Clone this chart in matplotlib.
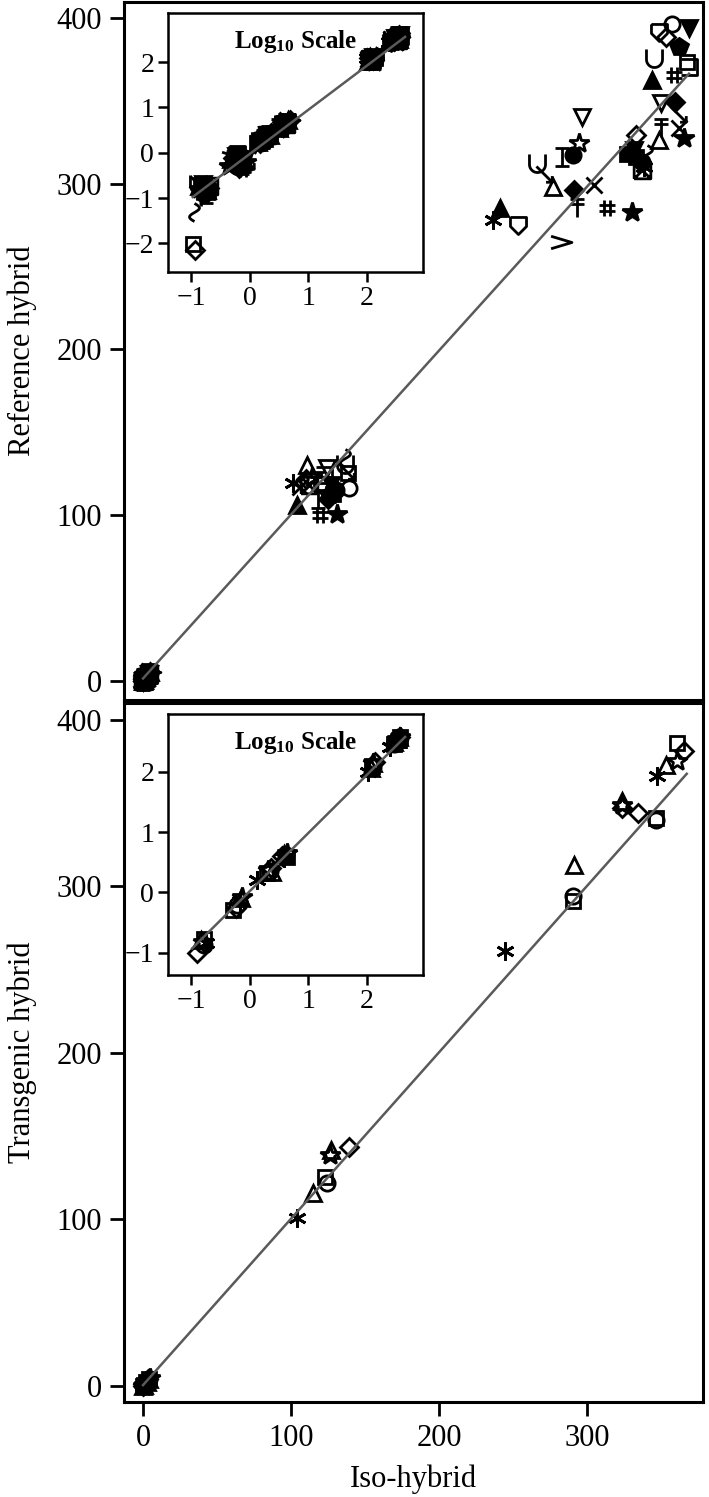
import numpy as np
import matplotlib
matplotlib.use('Agg')
from matplotlib import pyplot as plt
from matplotlib.path import Path

plt.rcParams['font.family'] = ['Liberation Serif', 'DejaVu Serif']
plt.rcParams['mathtext.fontset'] = 'custom'
plt.rcParams['mathtext.rm'] = 'Liberation Serif'
plt.rcParams['mathtext.bf'] = 'Liberation Serif:bold'

nan = np.nan

# ---- top panel: iso-hybrid vs reference hybrid ----
top_sym = ['circle_open', 'circle_fill', 'tri_up_open', 'tri_up_fill', 'tri_dn_open',
           'tri_dn_fill', 'diamond_open', 'diamond_fill', 'square_open', 'square_fill',
           'star_fill', 'star_open', 'asterisk', 'cross', 'hash',
           'cup', 'gt', 'tbar', 'shield', 'wave',
           'bracket', 'arrow', 'pent_fill', 'ibar', 'boxx']

top_iso_1 = [0.15, 0.17, 0.14, 0.19, 0.16, 0.18, 0.117, 0.20, 0.107, 0.15, 0.17, 0.14, 0.19,
             0.16, 0.21, 0.13, 0.18, 0.15, 0.17, 0.112, 0.19, 0.14, 0.16, 0.18, 0.20]
top_ref_1 = [0.16, 0.12, 0.18, 0.15, 0.20, 0.13, 0.0071, 0.17, 0.0095, 0.19, 0.14, 0.16, 0.12,
             0.18, 0.15, 0.20, 0.13, 0.11, 0.17, 0.05, 0.14, 0.19, 0.16, 0.12, 0.18]
top_iso_2 = [0.55, 0.62, 0.48, 0.71, 0.80, 0.58, 0.66, 0.52, 0.75, 0.60, 0.88, 0.45, 0.68,
             0.57, 0.78, 0.64, 0.50, 0.85, 0.61, 0.70, 0.54, 0.92, 0.59, 0.73, 0.66]
top_ref_2 = [0.60, 0.50, 0.72, 0.58, 0.65, 0.85, 0.47, 0.78, 0.55, 0.90, 0.62, 0.52, 0.70,
             0.80, 0.44, 0.66, 0.75, 0.57, 0.92, 0.49, 0.68, 0.63, 0.82, 0.54, 0.71]
top_iso_3 = [1.6, 1.9, 1.4, 2.2, 1.7, 2.0, 1.5, 2.3, 1.8, 1.35, 2.1, 1.65, 1.95,
             1.45, 2.25, 1.75, 1.55, 2.05, 1.85, 1.3, 2.15, 1.6, 1.9, 1.7, 2.0]
top_ref_3 = [1.9, 2.2, 1.7, 2.5, 1.8, 2.4, 1.6, 2.7, 2.0, 1.65, 2.3, 2.1, 2.6,
             1.75, 2.45, 1.95, 2.05, 2.35, 2.15, 1.55, 2.55, 1.85, 2.25, 2.0, 2.4]
top_iso_4 = [3.5, 4.2, 3.2, 4.6, 3.8, 4.0, 3.4, 4.8, 3.6, 4.4, 3.1, 3.9, 4.5,
             3.3, 4.1, 3.7, 4.7, 3.5, 4.3, 3.9, 3.2, 4.6, 3.6, 4.0, 4.2]
top_ref_4 = [3.9, 4.6, 3.5, 5.2, 4.1, 4.4, 3.8, 5.4, 4.0, 4.9, 3.4, 4.3, 5.0,
             3.6, 4.7, 4.2, 5.3, 3.9, 4.8, 4.5, 3.7, 5.1, 4.1, 4.6, 4.4]
top_iso_5 = [139, 130, 111, 104, 124.4, 127, 110, 125, 138.5, 128, 131, 114, 101,
             106, 119.7, 136, nan, 117.7, 121, 136.5, 122, 138, 126, 118, 112]
top_ref_5 = [116.4, 115, 130.3, 106, 128.5, 118, 122, 110, 125.5, 113, 100.5, 123, 119.5,
             117, 100, 131, nan, 121, 118, 134.5, 124, 126, 112, 110, 118]
top_iso_6 = [357, 337, 276.4, 343.6, 349.7, 368.5, 333, 359, 367, 327, 365, 294.5, 236,
             361.8, 358.4, 345, 282.4, 349.7, 348, 340, 368.5, 271, 362, 283, 337]
top_ref_6 = [396, 313, 298, 362.6, 348.7, 394, 329.4, 349.3, 373.5, 318, 327.6, 324.6, 278,
             333.6, 365.6, 376, 265, 334.2, 391.6, 318, 370.5, 305, 382.5, 316, 308.3]
top_iso_7 = [nan, 290, 348, 240.7, 296, 331.5, 353, 291, nan, 333, 330, nan, 338,
             304.6, 313.4, 266, nan, 293, 253, nan, nan, 361.8, nan, nan, nan]
top_ref_7 = [nan, 317, 326.4, 285.4, 340, 320, 388.5, 296, nan, 316, 283, nan, 310,
             299, 285.4, 312.5, nan, 286, 275, nan, nan, 341.5, nan, nan, nan]

# ---- bottom panel: iso-hybrid vs transgenic hybrid ----
bot_sym = ['circle_open', 'tri_up_open', 'square_open', 'diamond_open', 'star_open', 'asterisk']

bot_iso_1 = [0.17, 0.15, 0.165, 0.129, 0.16, 0.18]
bot_ref_1 = [0.135, 0.16, 0.17, 0.098, 0.15, 0.145]
bot_iso_2 = [0.60, 0.70, 0.53, 0.58, 0.74, 0.68]
bot_ref_2 = [0.62, 0.80, 0.51, 0.56, 0.85, 0.72]
bot_iso_3 = [2.2, 2.4, 2.0, 2.3, 2.1, 1.33]
bot_ref_3 = [2.3, 2.2, 2.1, 2.5, 2.4, 1.58]
bot_iso_4 = [4.1, 3.8, 4.3, 3.6, 4.4, 3.9]
bot_ref_4 = [4.2, 4.4, 3.9, 4.0, 4.6, 3.7]
bot_iso_5 = [124.4, 115, 123, 139, 126.4, 103.6]
bot_ref_5 = [122, 116, 125.5, 143.5, 138.7, 101]
bot_iso_6 = [346, 353, 360.5, 365, 360.5, 347]
bot_ref_6 = [340, 373, 386, 381, 375, 366]
bot_iso_7 = [290, 323, 346, 334, 323, 244]
bot_ref_7 = [294, 351, 341, 344, 349, 261]
bot_iso_8 = [nan, 291, 290, 323, nan, nan]
bot_ref_8 = [nan, 313, 291, 347, nan, nan]
bot_iso_9 = [nan, 127, nan, nan, nan, nan]
bot_ref_9 = [nan, 141.7, nan, nan, nan, nan]

# fitted lines (slope, intercept, x start, x end)
top_fit = (0.99, 1.5, 0, 368.5)
bot_fit = (1.0, 0.5, 0, 367)
top_log_fit = (0.975, -0.03, -0.97, 2.65)
bot_log_fit = (0.967, 0.018, -0.98, 2.65)


# marker shapes
def seg_path(*segs):
    verts, codes = [], []
    for s in segs:
        for i, p in enumerate(s):
            verts.append(p)
            codes.append(Path.MOVETO if i == 0 else Path.LINETO)
    return Path(verts, codes)


t = np.linspace(np.pi, 2 * np.pi, 20)
cup = [(-0.8, 0.9)] + list(zip(0.8 * np.cos(t), -0.1 + 0.8 * np.sin(t))) + [(0.8, 0.9)]
wy = np.linspace(-1, 1, 40)
wave = list(zip(0.55 * np.sin(np.pi * wy), wy))

MARKERS = {
    'circle_open': ('o', False, 11),
    'circle_fill': ('o', True, 11),
    'tri_up_open': ('^', False, 12),
    'tri_up_fill': ('^', True, 12),
    'tri_dn_open': ('v', False, 12),
    'tri_dn_fill': ('v', True, 12),
    'diamond_open': ('D', False, 9),
    'diamond_fill': ('D', True, 9),
    'square_open': ('s', False, 10),
    'square_fill': ('s', True, 10),
    'star_fill': ('*', True, 15),
    'star_open': ('*', False, 15),
    'pent_fill': ('p', True, 13),
    'asterisk': ((6, 2, 0), False, 13),
    'cross': ('x', False, 12),
    'hash': (seg_path([(-0.35, -1), (-0.35, 1)], [(0.35, -1), (0.35, 1)],
                      [(-1, -0.35), (1, -0.35)], [(-1, 0.35), (1, 0.35)]), False, 12),
    'cup': (seg_path(cup), False, 13),
    'gt': (seg_path([(-1, 0.6), (1, 0), (-1, -0.6)]), False, 15),
    'tbar': (seg_path([(0, -1), (0, 0.8)], [(-0.7, 0.8), (0.7, 0.8)],
                      [(-0.7, 0.3), (0.7, 0.3)]), False, 15),
    'shield': (seg_path([(-0.8, 0.8), (0.8, 0.8), (0.8, -0.1), (0, -0.9),
                         (-0.8, -0.1), (-0.8, 0.8)]), False, 13),
    'wave': (seg_path(wave), False, 13),
    'bracket': (seg_path([(-0.8, 0.8), (0.8, 0.8), (0.8, -0.8), (-0.8, -0.8)]), False, 12),
    'arrow': (seg_path([(-0.8, 0.8), (0.6, -0.6)], [(0.6, -0.05), (0.6, -0.6), (0.05, -0.6)]),
              False, 13),
    'ibar': (seg_path([(-0.6, 0.8), (0.6, 0.8)], [(0, 0.8), (0, -0.8)],
                      [(-0.6, -0.8), (0.6, -0.8)]), False, 13),
    'boxx': (seg_path([(-0.8, -0.8), (0.8, -0.8), (0.8, 0.8), (-0.8, 0.8), (-0.8, -0.8)],
                      [(-0.8, -0.8), (0.8, 0.8)], [(-0.8, 0.8), (0.8, -0.8)]), False, 12),
}


def draw_points(ax, names, xs_list, ys_list, log=False):
    for i, name in enumerate(names):
        m, filled, size = MARKERS[name]
        x = np.array([xs[i] for xs in xs_list], dtype=float)
        y = np.array([ys[i] for ys in ys_list], dtype=float)
        if log:
            x, y = np.log10(x), np.log10(y)
        ax.plot(x, y, ls='none', marker=m, ms=size, mec='black',
                mfc='black' if filled else 'none', mew=2.0, zorder=3)


def draw_fit(ax, fit):
    a, b, x0, x1 = fit
    xx = np.array([x0, x1])
    ax.plot(xx, a * xx + b, color='#5a5a5a', lw=1.8, zorder=4)


def style_main(ax):
    for s in ax.spines.values():
        s.set_linewidth(2.2)
    ax.tick_params(direction='out', length=10, width=2, pad=6, labelsize=22)
    ax.set_xlim(-12.8, 378)
    ax.set_ylim(-11.5, 409.6)
    ax.set_xticks([0, 100, 200, 300])
    ax.set_yticks([0, 100, 200, 300, 400])


def style_inset(ax):
    for s in ax.spines.values():
        s.set_linewidth(1.8)
    ax.tick_params(direction='out', length=7, width=1.8, pad=3, labelsize=20)
    ax.set_xlim(-1.39, 2.96)
    ax.set_xticks([-1, 0, 1, 2])
    ax.text(0.5, 0.89, r'$\mathbf{Log_{10}}$ $\mathbf{Scale}$', transform=ax.transAxes,
            ha='center', va='center', fontsize=18)


fig = plt.figure(figsize=(7.09, 14.97), dpi=100)

top_x = [top_iso_1, top_iso_2, top_iso_3, top_iso_4, top_iso_5, top_iso_6, top_iso_7]
top_y = [top_ref_1, top_ref_2, top_ref_3, top_ref_4, top_ref_5, top_ref_6, top_ref_7]
bot_x = [bot_iso_1, bot_iso_2, bot_iso_3, bot_iso_4, bot_iso_5, bot_iso_6, bot_iso_7,
         bot_iso_8, bot_iso_9]
bot_y = [bot_ref_1, bot_ref_2, bot_ref_3, bot_ref_4, bot_ref_5, bot_ref_6, bot_ref_7,
         bot_ref_8, bot_ref_9]

ax1 = fig.add_axes([0.175, 0.5324, 0.8166, 0.4663])
draw_points(ax1, top_sym, top_x, top_y)
draw_fit(ax1, top_fit)
style_main(ax1)
ax1.tick_params(axis='x', bottom=False, labelbottom=False)
ax1.set_ylabel('Reference hybrid', fontsize=22)
ax1.yaxis.set_label_coords(-0.15, 0.5)

ax2 = fig.add_axes([0.175, 0.0635, 0.8166, 0.4669])
draw_points(ax2, bot_sym, bot_x, bot_y)
draw_fit(ax2, bot_fit)
style_main(ax2)
ax2.set_ylim(-9.6, 410)
ax2.set_ylabel('Transgenic hybrid', fontsize=22)
ax2.yaxis.set_label_coords(-0.15, 0.5)
ax2.set_xlabel('Iso-hybrid', fontsize=22, labelpad=8)

ins1 = fig.add_axes([0.237, 0.8183, 0.36, 0.173])
draw_points(ins1, top_sym, top_x, top_y, log=True)
draw_fit(ins1, top_log_fit)
style_inset(ins1)
ins1.set_ylim(-2.63, 3.08)
ins1.set_yticks([-2, -1, 0, 1, 2])

ins2 = fig.add_axes([0.237, 0.3487, 0.36, 0.1743])
draw_points(ins2, bot_sym, bot_x, bot_y, log=True)
draw_fit(ins2, bot_log_fit)
style_inset(ins2)
ins2.set_ylim(-1.37, 2.96)
ins2.set_yticks([-1, 0, 1, 2])

plt.savefig('out.png', dpi=100)
